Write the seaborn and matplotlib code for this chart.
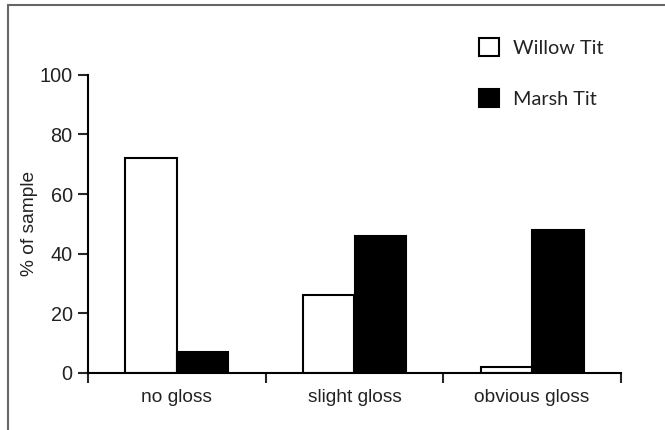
import pandas as pd
import matplotlib
matplotlib.use("Agg")
import matplotlib.pyplot as plt
from matplotlib.patches import Patch
from matplotlib.lines import Line2D
import seaborn as sns

# values
categories = ["no gloss", "slight gloss", "obvious gloss"]
willow_tit = [72, 26, 2]
marsh_tit = [7, 46, 48]
species = ["Willow Tit", "Marsh Tit"]
y_ticks = [0, 20, 40, 60, 80, 100]

df = pd.DataFrame({
    "gloss": categories * 2,
    "species": [species[0]] * 3 + [species[1]] * 3,
    "pct": willow_tit + marsh_tit,
})

sns.set_style("white")
plt.rcParams["font.family"] = ["Liberation Sans", "DejaVu Sans"]

fig = plt.figure(figsize=(6.65, 4.3), dpi=100)
ax = fig.add_axes([88 / 665, 1 - 373 / 430, 533 / 665, (373 - 74.7) / 430])

sns.barplot(data=df, x="gloss", y="pct", hue="species", order=categories,
            hue_order=species, palette={"Willow Tit": "white", "Marsh Tit": "black"},
            edgecolor="black", linewidth=1.5, width=0.58, gap=0, ax=ax, legend=False)

ax.set_xlim(-0.5, 2.5)
ax.set_ylim(0, 100)
ax.set_yticks(y_ticks)
ax.set_xticks([0, 1, 2])
ax.set_xticklabels(categories)
ax.set_xticks([-0.5, 0.5, 1.5, 2.5], minor=True)
ax.set_xlabel("")

for s in ["top", "right"]:
    ax.spines[s].set_visible(False)
for s in ["left", "bottom"]:
    ax.spines[s].set_linewidth(1.5)
    ax.spines[s].set_color("black")

ax.tick_params(axis="y", which="major", direction="out", length=7.5, width=1.5,
               pad=3.5, labelsize=14.3, labelcolor="#222", left=True)
ax.tick_params(axis="x", which="major", length=0, pad=11.5, labelsize=13.8, labelcolor="#222")
ax.tick_params(axis="x", which="minor", direction="out", length=7.5, width=1.5, bottom=True)

ax.set_ylabel("% of sample", fontsize=13.8, color="#222")
ax.yaxis.set_label_coords(-0.093, 0.5)

handles = [Patch(facecolor="white", edgecolor="black", linewidth=1.5, label=species[0]),
           Patch(facecolor="black", edgecolor="black", linewidth=1.5, label=species[1])]
leg = ax.legend(handles=handles, loc="upper left", bbox_to_anchor=(479 / 665, 1 - 38 / 430),
                bbox_transform=fig.transFigure, frameon=False, borderpad=0, borderaxespad=0,
                handlelength=1.0, handleheight=1.0, handletextpad=0.7, labelspacing=1.65,
                prop={"family": "Lato", "size": 14.3})
for t in leg.get_texts():
    t.set_color("#222")

# frame lines along the top and left of the figure
fig.add_artist(Line2D([8 / 665, 1], [1 - 5 / 430, 1 - 5 / 430], color="#666", lw=1.5))
fig.add_artist(Line2D([8 / 665, 8 / 665], [0, 1 - 5 / 430], color="#666", lw=1.5))

fig.savefig("out.png", dpi=100)
